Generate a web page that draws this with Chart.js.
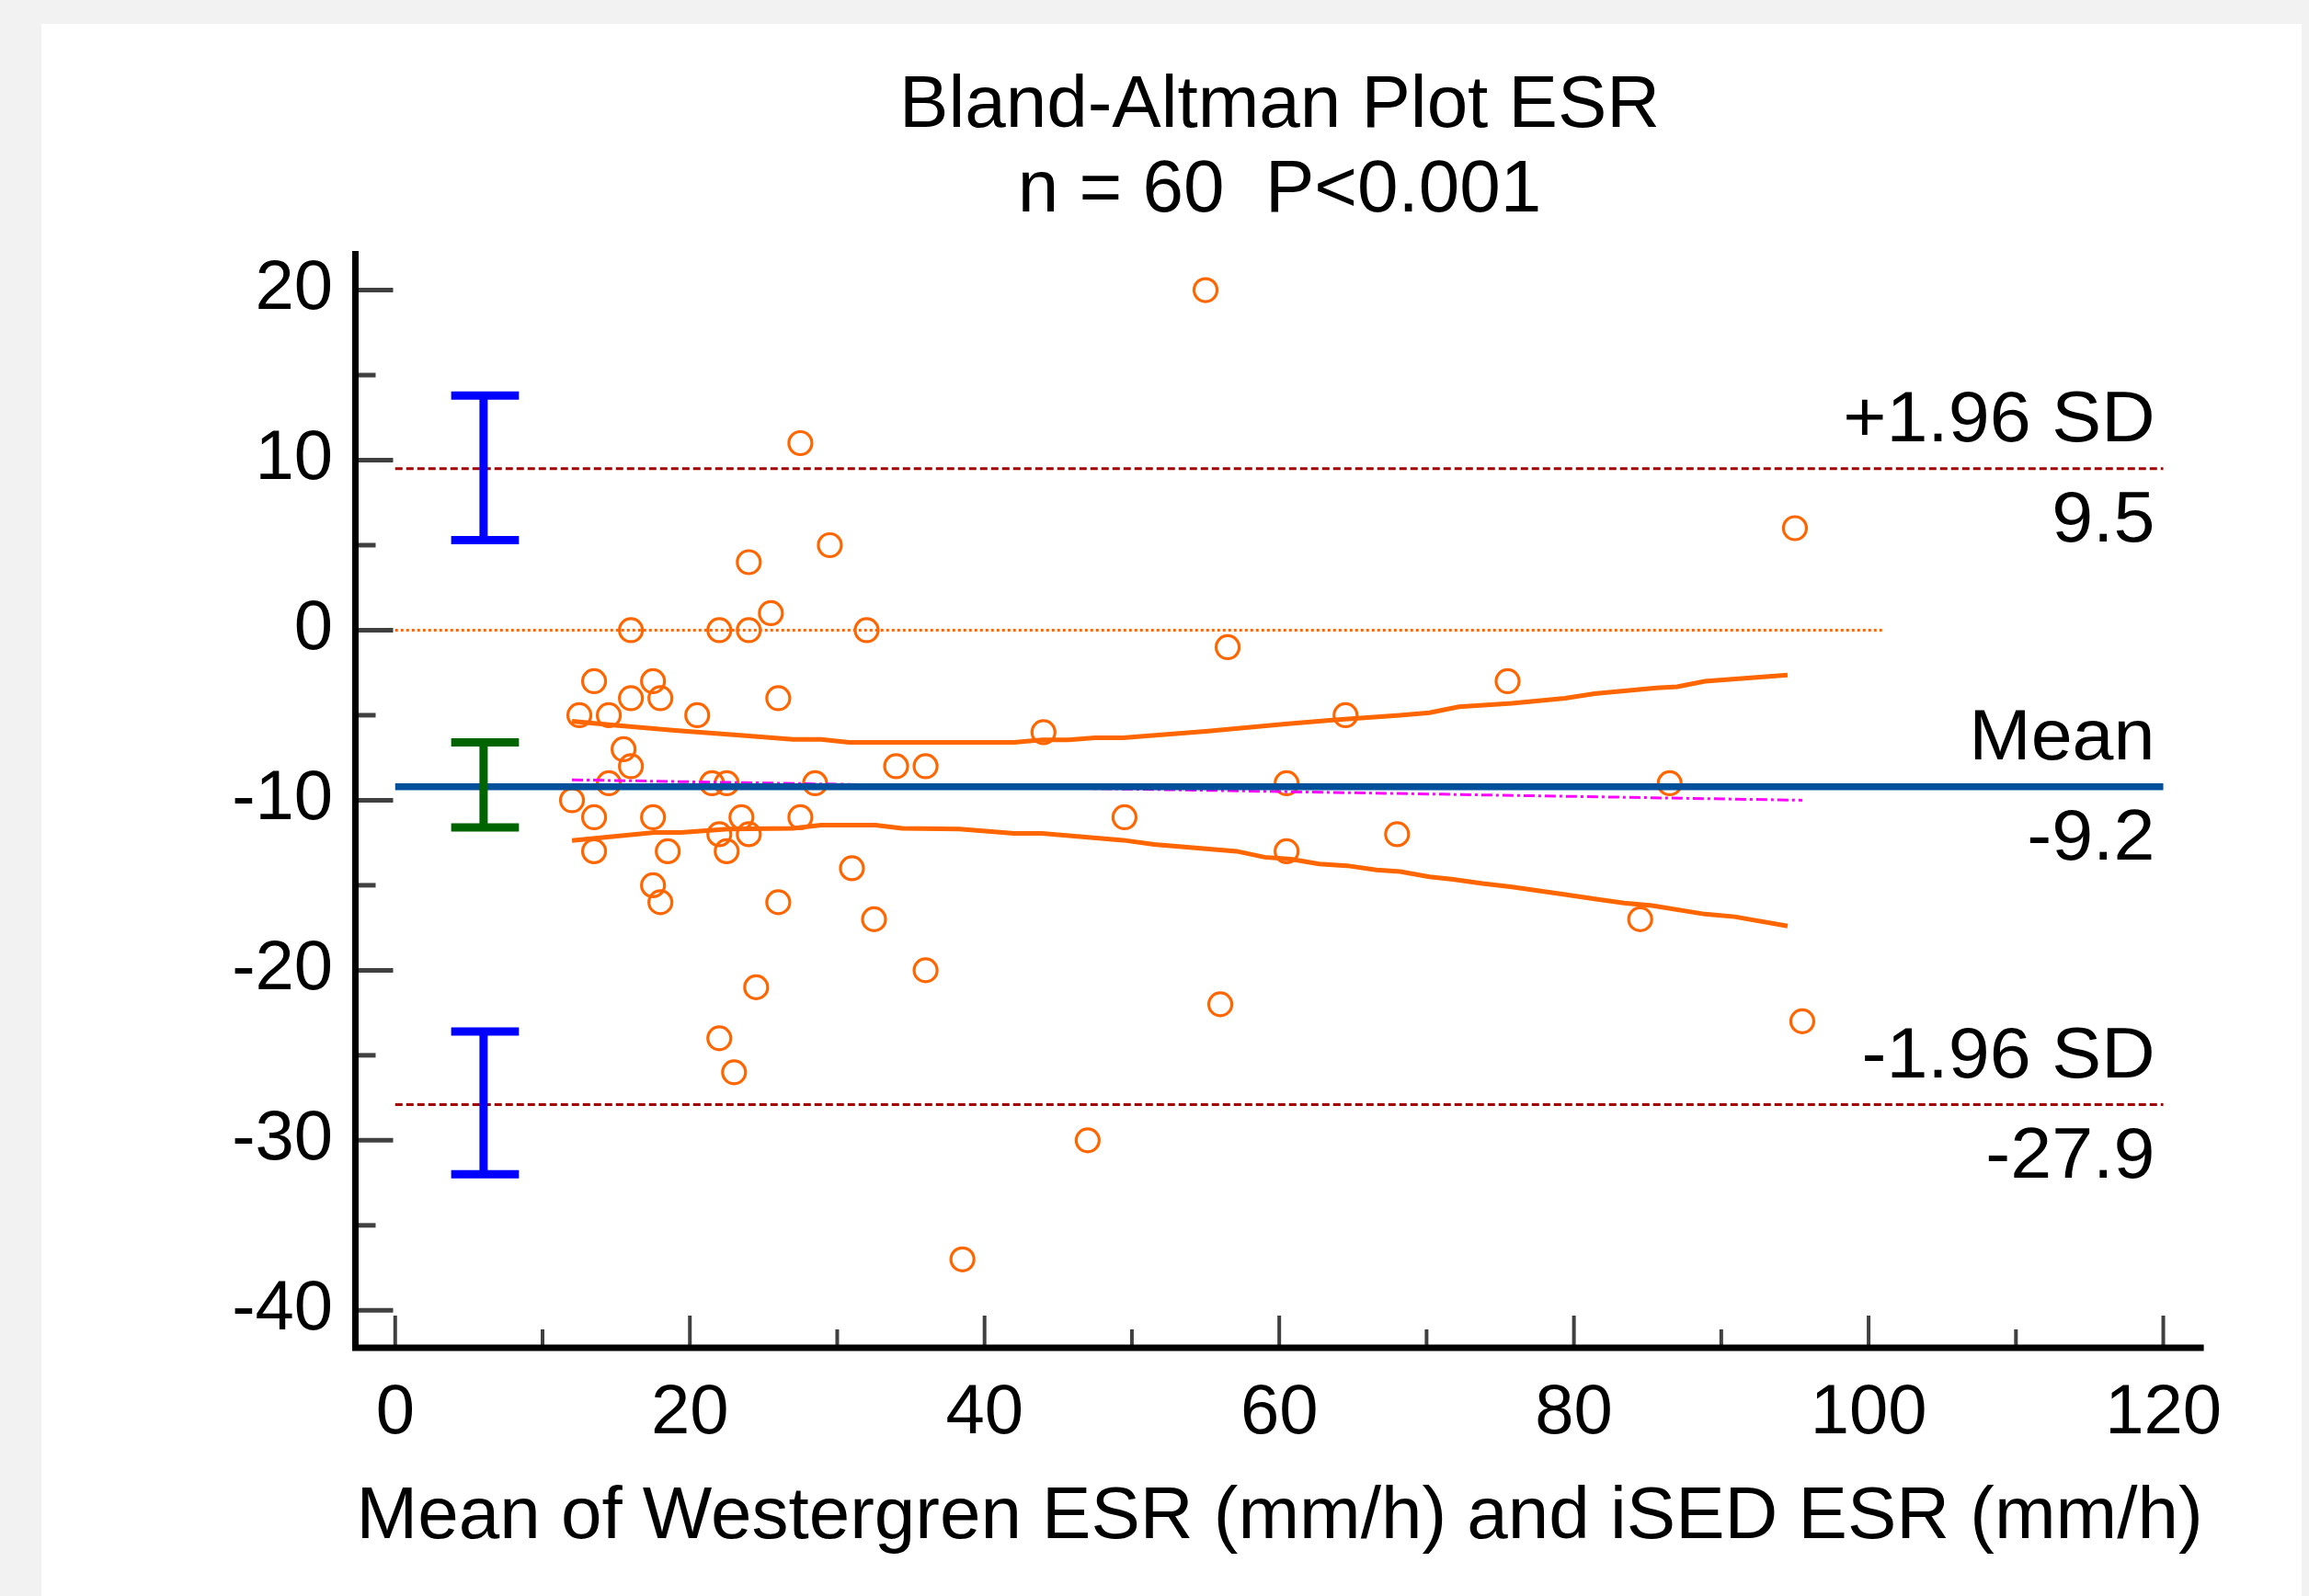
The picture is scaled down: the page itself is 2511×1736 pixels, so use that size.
<!DOCTYPE html>
<html>
<head>
<meta charset="utf-8">
<title>Bland-Altman Plot ESR</title>
<script src="https://cdn.jsdelivr.net/npm/chart.js@4.4.1/dist/chart.umd.min.js"></script>
<style>
    html, body { margin: 0; padding: 0; background: #f2f2f2; }
    canvas { display: block; }
</style>
</head>
<body>
<canvas id="chart" width="2511" height="1736"></canvas>
<script>
"use strict";

// mean of the two methods (mm/h) and their difference, one entry per patient
var meanEsr = [55, 27.5, 95, 29.5, 24, 25.5, 16, 22, 24, 32,
    56.5, 13.5, 17.5, 75.5, 16, 18, 26, 12.5, 14.5, 20.5,
    64.5, 44, 15.5, 16, 34, 36, 14.5, 21.5, 22.5, 28.5,
    60.5, 86.5, 12, 13.5, 17.5, 23.5, 27.5, 49.5, 22, 24,
    68, 13.5, 18.5, 22.5, 60.5, 31, 17.5, 18, 26, 32.5,
    84.5, 36, 24.5, 56, 95.5, 22, 23, 47, 38.5];
var diffEsr = [20, 11, 6, 5, 4, 1, 0, 0, 0, 0,
    -1, -3, -3, -3, -4, -4, -4, -5, -5, -5,
    -5, -6, -7, -8, -8, -8, -9, -9, -9, -9,
    -9, -9, -10, -11, -11, -11, -11, -11, -12, -12,
    -12, -13, -13, -13, -13, -14, -15, -16, -16, -17,
    -17, -20, -21, -22, -23, -24, -26, -30, -37];

// limits of agreement
var meanDiff = -9.2;
var upperLoA = 9.5;
var lowerLoA = -27.9;

// confidence intervals drawn as error bars at the left
var ciUpperLoA = [5.3, 13.8];
var ciMeanDiff = [-11.6, -6.6];
var ciLowerLoA = [-32.0, -23.6];
var ciBarX = 6;
var ciCapX = [3.8, 8.4];

// regression of differences on means
var regX = [12, 95.5];
var regY = [-8.8, -10.0];

// confidence band of the regression
var bandUpperX = [12, 15, 19, 23, 27, 28.9, 30.8, 42, 43.9, 45.7, 47.5, 49.4, 55, 60.6, 63.8,
    68.2, 70.2, 72.2, 75.8, 79.4, 81.4, 85.6, 87, 88.9, 94.5];
var bandUpperY = [-5.36, -5.6, -5.9, -6.15, -6.42, -6.42, -6.6, -6.6, -6.45, -6.45, -6.33, -6.33, -5.95, -5.5, -5.27,
    -5.0, -4.85, -4.5, -4.3, -4.0, -3.73, -3.4, -3.33, -3.0, -2.64];
var bandLowerX = [12, 17.6, 19.4, 22.6, 27, 28.9, 32.6, 34.4, 38.3, 42, 43.9, 49.4, 51.5, 57.1, 59,
    60.8, 62.7, 64.6, 66.6, 68.2, 70.2, 71.8, 73.8, 75.8, 79.4, 81.4, 83.4, 85.3, 88.9, 90.9, 94.5];
var bandLowerY = [-12.37, -11.9, -11.9, -11.7, -11.65, -11.46, -11.46, -11.65, -11.7, -11.95, -11.95, -12.35, -12.6, -13.0, -13.35,
    -13.47, -13.75, -13.85, -14.1, -14.2, -14.5, -14.65, -14.9, -15.1, -15.55, -15.8, -16.05, -16.2, -16.7, -16.85, -17.4];

// axes
var xTicks = [0, 20, 40, 60, 80, 100, 120];
var xMinorTicks = [10, 30, 50, 70, 90, 110];
var yTicks = [-40, -30, -20, -10, 0, 10, 20];
var yMinorTicks = [-35, -25, -15, -5, 5, 15];
var zeroLineX = [0, 101];
var loaLineX = [0, 120];

var FONT = '"Liberation Sans", Arial, sans-serif';
var ORANGE = '#ff6600';

function pairs(xs, ys) {
    return xs.map(function (x, i) {
        return {x: x, y: ys[i]};
    });
}

function hline(xs, y) {
    return [{x: xs[0], y: y}, {x: xs[1], y: y}];
}

function errorBar(ci) {
    var lo = ci[0], hi = ci[1];
    return [
        {x: ciCapX[0], y: hi}, {x: ciCapX[1], y: hi}, {x: ciBarX, y: null},
        {x: ciBarX, y: hi}, {x: ciBarX, y: lo}, {x: ciBarX, y: null},
        {x: ciCapX[0], y: lo}, {x: ciCapX[1], y: lo}
    ];
}

function lineSet(data, color, width, dash, order) {
    return {
        data: data,
        showLine: true,
        borderColor: color,
        backgroundColor: color,
        borderWidth: width,
        borderDash: dash || [],
        pointRadius: 0,
        fill: false,
        tension: 0,
        spanGaps: false,
        order: order
    };
}

// page background with the white panel
var panelPlugin = {
    id: 'panel',
    beforeDraw: function (chart) {
        var ctx = chart.ctx;
        ctx.save();
        ctx.fillStyle = '#f2f2f2';
        ctx.fillRect(0, 0, chart.width, chart.height);
        ctx.fillStyle = '#ffffff';
        ctx.fillRect(45, 26, 2458, chart.height - 26);
        ctx.restore();
    }
};

// axis lines with inward ticks, and the labels of the reference lines
var framePlugin = {
    id: 'frame',
    afterDatasetsDraw: function (chart) {
        var ctx = chart.ctx;
        var xs = chart.scales.x, ys = chart.scales.y;
        var left = xs.left, right = xs.right, top = ys.top, bottom = ys.bottom;
        ctx.save();

        ctx.strokeStyle = '#404040';
        ctx.lineWidth = 5;
        yTicks.concat(yMinorTicks).forEach(function (v) {
            var y = ys.getPixelForValue(v);
            var len = yTicks.indexOf(v) >= 0 ? 41 : 22;
            ctx.beginPath();
            ctx.moveTo(left, y);
            ctx.lineTo(left + len, y);
            ctx.stroke();
        });
        ctx.lineWidth = 4;
        xTicks.concat(xMinorTicks).forEach(function (v) {
            var x = xs.getPixelForValue(v);
            var len = xTicks.indexOf(v) >= 0 ? 35 : 20;
            ctx.beginPath();
            ctx.moveTo(x, bottom);
            ctx.lineTo(x, bottom - len);
            ctx.stroke();
        });

        ctx.strokeStyle = '#000000';
        ctx.lineWidth = 7;
        ctx.lineJoin = 'miter';
        ctx.beginPath();
        ctx.moveTo(left, top);
        ctx.lineTo(left, bottom);
        ctx.lineTo(right, bottom);
        ctx.stroke();

        ctx.fillStyle = '#000000';
        ctx.font = '77px ' + FONT;
        ctx.textAlign = 'right';
        ctx.textBaseline = 'middle';
        var lx = xs.getPixelForValue(120) - 9;
        [[upperLoA, '+1.96 SD'], [meanDiff, 'Mean'], [lowerLoA, '-1.96 SD']].forEach(function (item) {
            var y = ys.getPixelForValue(item[0]);
            ctx.save();
            ctx.translate(lx, y - 51);
            ctx.scale(1.05, 1);
            ctx.fillText(item[1], 0, 0);
            ctx.restore();
            ctx.save();
            ctx.translate(lx, y + 58);
            ctx.scale(1.05, 1);
            ctx.fillText(item[0].toFixed(1), 0, 0);
            ctx.restore();
        });
        ctx.restore();
    }
};

var ctx = document.getElementById('chart').getContext('2d');
var chart = new Chart(ctx, {
    type: 'scatter',
    data: {
        datasets: [
            lineSet(errorBar(ciUpperLoA), '#0000ff', 9, null, 0),
            lineSet(errorBar(ciLowerLoA), '#0000ff', 9, null, 0),
            lineSet(errorBar(ciMeanDiff), '#006400', 9, null, 0),
            lineSet(hline(loaLineX, meanDiff), '#00509c', 7.5, null, 1),
            lineSet(pairs(regX, regY), '#ff00ff', 3, [12, 4, 3, 4], 2),
            lineSet(pairs(bandUpperX, bandUpperY), ORANGE, 5, null, 3),
            lineSet(pairs(bandLowerX, bandLowerY), ORANGE, 5, null, 3),
            {
                data: pairs(meanEsr, diffEsr),
                pointStyle: 'circle',
                pointRadius: 12.5,
                borderWidth: 3.2,
                borderColor: ORANGE,
                backgroundColor: 'rgba(255,255,255,0)',
                order: 4
            },
            lineSet(hline(loaLineX, upperLoA), '#a00000', 3, [8, 4], 5),
            lineSet(hline(loaLineX, lowerLoA), '#a00000', 3, [8, 4], 5),
            lineSet(hline(zeroLineX, 0), ORANGE, 3, [3, 3], 6)
        ]
    },
    options: {
        responsive: false,
        animation: false,
        devicePixelRatio: 1,
        events: [],
        layout: {
            padding: {left: 200, right: 114.4, top: 0, bottom: 37}
        },
        plugins: {
            legend: {display: false},
            tooltip: {enabled: false},
            title: {
                display: true,
                fullSize: false,
                text: ['Bland-Altman Plot ESR', 'n = 60  P<0.001'],
                color: '#000000',
                font: {family: FONT, size: 80, weight: 'normal', lineHeight: 1.15},
                padding: {top: 70, bottom: 19}
            }
        },
        scales: {
            x: {
                type: 'linear',
                min: -2.7,
                max: 122.75,
                afterBuildTicks: function (scale) {
                    scale.ticks = xTicks.map(function (v) { return {value: v}; });
                },
                afterFit: function (scale) {
                    scale.height = 233;
                },
                grid: {display: false, drawTicks: false},
                border: {display: false},
                ticks: {
                    color: '#000000',
                    font: {family: FONT, size: 76},
                    padding: 26.4,
                    maxRotation: 0,
                    autoSkip: false
                },
                title: {
                    display: true,
                    text: 'Mean of Westergren ESR (mm/h) and iSED ESR (mm/h)',
                    color: '#000000',
                    font: {family: FONT, size: 80},
                    padding: 0
                }
            },
            y: {
                type: 'linear',
                min: -42.2,
                max: 22.3,
                afterBuildTicks: function (scale) {
                    scale.ticks = yTicks.map(function (v) { return {value: v}; });
                },
                afterFit: function (scale) {
                    scale.width = 186.5;
                },
                grid: {display: false, drawTicks: false},
                border: {display: false},
                ticks: {
                    color: '#000000',
                    font: {family: FONT, size: 76},
                    padding: 24.5,
                    autoSkip: false
                }
            }
        }
    },
    plugins: [panelPlugin, framePlugin]
});
</script>
</body>
</html>
